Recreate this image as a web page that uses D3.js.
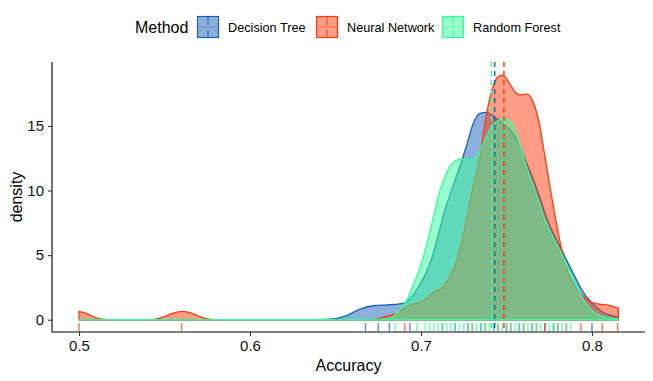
<!DOCTYPE html>
<html>
<head>
<meta charset="utf-8">
<script src="https://cdn.jsdelivr.net/npm/d3@7"></script>
<style>
  body { margin: 0; background: #fff; }
  svg { display: block; font-family: "Liberation Sans", Arial, sans-serif; }
</style>
</head>
<body>
<svg id="chart" width="653" height="381"></svg>
<script>
/* DATA */
const methods = ["Decision Tree", "Neural Network", "Random Forest"];
const palette = ["#1a62b8", "#ff3a0e", "#33ff99"];

// density curves: [accuracy, density]
const dtCurve = [[0.500,0],[0.600,0],[0.640,0.01],[0.647,0.04],[0.656,0.3],[0.664,0.8],[0.673,1.1],[0.682,1.16],[0.690,1.29],[0.6975,2.32],[0.706,4.64],[0.714,8.5],[0.724,12.36],[0.727,13.65],[0.7306,15.2],[0.7345,15.97],[0.7384,16.05],[0.7413,15.84],[0.749,15.07],[0.753,14.55],[0.757,13.65],[0.761,12.36],[0.7647,11.2],[0.7686,9.8],[0.7725,8.25],[0.7764,6.96],[0.7813,5.67],[0.786,4.38],[0.790,3.35],[0.794,2.32],[0.800,1.29],[0.8057,0.64],[0.8115,0.31],[0.8154,0.2]];
const nnCurve = [[0.500,0.64],[0.505,0.45],[0.510,0.15],[0.515,0.03],[0.520,0],[0.540,0],[0.545,0.05],[0.550,0.25],[0.555,0.52],[0.5605,0.64],[0.566,0.5],[0.571,0.22],[0.576,0.05],[0.582,0],[0.665,0],[0.673,0.03],[0.680,0.26],[0.686,0.52],[0.694,1.16],[0.701,1.41],[0.707,2.09],[0.713,2.55],[0.718,3.63],[0.721,4.64],[0.724,6.18],[0.727,7.96],[0.730,10.05],[0.7345,12.6],[0.737,14.9],[0.740,17.0],[0.742,18.0],[0.745,18.8],[0.7474,18.93],[0.749,18.8],[0.753,18.03],[0.756,17.5],[0.759,17.4],[0.762,17.47],[0.7647,17.1],[0.7677,16.0],[0.7696,14.9],[0.7715,13.4],[0.7735,11.85],[0.7754,10.3],[0.7774,8.75],[0.7803,6.7],[0.7832,4.9],[0.786,3.6],[0.790,2.57],[0.794,1.93],[0.7988,1.41],[0.8037,1.21],[0.8095,1.13],[0.8154,0.9]];
const rfCurve = [[0.500,0],[0.660,0],[0.673,0.02],[0.682,0.1],[0.6877,0.8],[0.6916,1.5],[0.6955,2.7],[0.6994,4.0],[0.7033,5.8],[0.7072,7.9],[0.7111,10.0],[0.715,11.4],[0.7189,12.2],[0.7228,12.42],[0.7287,12.42],[0.7326,12.62],[0.7364,13.65],[0.7404,14.68],[0.7443,15.33],[0.7481,15.59],[0.753,15.2],[0.7569,13.9],[0.7608,12.2],[0.7647,10.7],[0.7686,9.2],[0.7725,7.7],[0.7764,6.6],[0.7813,5.35],[0.786,4.05],[0.790,2.9],[0.794,1.8],[0.7978,1.03],[0.8018,0.52],[0.8076,0.2],[0.8154,0.05]];

// rug positions (individual accuracies)
const dtRug = [0.6675,0.675,0.6815,0.6935,0.7125,0.72,0.7275,0.735,0.7425,0.75,0.7575,0.765,0.7725,0.7775,0.800];
const nnRug = [0.500,0.560,0.6905,0.73,0.7375,0.745,0.7525,0.76,0.7675,0.7725,0.78,0.785,0.7935,0.806,0.815];
const rfRug = [0.685,0.6975,0.7025,0.705,0.7075,0.71,0.7125,0.715,0.7175,0.72,0.7225,0.725,0.7275,0.73,0.7325,0.735,0.7375,0.74,0.7425,0.745,0.7475,0.75,0.7525,0.755,0.7575,0.76,0.7625,0.765,0.7675,0.77,0.775,0.7775,0.78,0.7825,0.785,0.7875];

// group means (dashed lines)
const means = [0.7431, 0.7485, 0.7412];

const xTicks = [0.5, 0.6, 0.7, 0.8];
const yTicks = [0, 5, 10, 15];

const curves = [dtCurve, nnCurve, rfCurve];
const rugs = [dtRug, nnRug, rfRug];

/* SCALES */
const svg = d3.select("#chart");
const pLeft = 52, pRight = 645, pTop = 62, pBottom = 332;

const x = d3.scaleLinear().domain([0.4842, 0.831]).range([pLeft, pRight]);
const y = d3.scaleLinear().domain([-0.95, 19.95]).range([pBottom, pTop]);

/* DENSITIES */
const area = d3.area()
  .x(d => x(d[0]))
  .y0(y(0))
  .y1(d => y(d[1]))
  .curve(d3.curveMonotoneX);

curves.forEach((c, i) => {
  svg.append("path")
    .attr("d", area(c) + "Z")
    .attr("fill", palette[i])
    .attr("fill-opacity", 0.5)
    .attr("stroke", palette[i])
    .attr("stroke-width", 1.3)
    .attr("stroke-linejoin", "round");
});

/* RUGS */
rugs.forEach((r, i) => {
  svg.append("g").selectAll("line")
    .data(r)
    .enter()
    .append("line")
    .attr("x1", d => x(d))
    .attr("x2", d => x(d))
    .attr("y1", pBottom - 9)
    .attr("y2", pBottom - 1)
    .attr("stroke", palette[i])
    .attr("stroke-opacity", 0.65)
    .attr("stroke-width", 1.6);
});

/* MEAN LINES */
svg.append("g").selectAll("line")
  .data(means)
  .enter()
  .append("line")
  .attr("x1", d => x(d))
  .attr("x2", d => x(d))
  .attr("y1", pTop)
  .attr("y2", pBottom)
  .attr("stroke", (d, i) => palette[i])
  .attr("stroke-width", 1.5)
  .attr("stroke-dasharray", "5,4");

/* AXES */
const xAxis = svg.append("g")
  .attr("transform", `translate(0,${pBottom})`)
  .call(d3.axisBottom(x).tickValues(xTicks).tickFormat(d3.format("")).tickSize(4).tickPadding(4));

const yAxis = svg.append("g")
  .attr("transform", `translate(${pLeft},0)`)
  .call(d3.axisLeft(y).tickValues(yTicks).tickSize(4).tickPadding(4));

[xAxis, yAxis].forEach(a => {
  a.select(".domain").attr("stroke", "#000").attr("stroke-width", 1.1);
  a.selectAll(".tick line").attr("stroke", "#333").attr("stroke-width", 1.1);
  a.selectAll(".tick text").attr("fill", "#111").style("font-size", "15px").style("font-family", "'Liberation Sans', Arial, sans-serif");
});

// domain paths without outer ticks
xAxis.select(".domain").attr("d", `M${pLeft},0H${pRight}`);
yAxis.select(".domain").attr("d", `M0,${pTop}V${pBottom}`);

svg.append("text")
  .attr("x", (pLeft + pRight) / 2)
  .attr("y", 371)
  .attr("text-anchor", "middle")
  .style("font-size", "16px")
  .text("Accuracy");

svg.append("text")
  .attr("transform", `translate(22,${(pTop + pBottom) / 2}) rotate(-90)`)
  .attr("text-anchor", "middle")
  .style("font-size", "16px")
  .text("density");

/* LEGEND */
const legend = svg.append("g");
legend.append("text")
  .attr("x", 135)
  .attr("y", 33)
  .style("font-size", "16px")
  .text("Method");

const keyX = [197, 316, 442];
methods.forEach((m, i) => {
  const g = legend.append("g").attr("transform", `translate(${keyX[i]},16)`);
  g.append("rect")
    .attr("x", 0.5).attr("y", 0.5)
    .attr("width", 21).attr("height", 21)
    .attr("fill", palette[i])
    .attr("fill-opacity", 0.5)
    .attr("stroke", palette[i])
    .attr("stroke-width", 1.2);
  g.append("line")
    .attr("x1", 1).attr("x2", 21).attr("y1", 11).attr("y2", 11)
    .attr("stroke", palette[i]).attr("stroke-opacity", 0.5).attr("stroke-width", 1);
  g.append("line")
    .attr("x1", 11).attr("x2", 11).attr("y1", 1).attr("y2", 21)
    .attr("stroke", palette[i]).attr("stroke-width", 1)
    .attr("stroke-dasharray", "8,5");
  g.append("text")
    .attr("x", 31)
    .attr("y", 15.5)
    .style("font-size", "12.7px")
    .text(m);
});
</script>
</body>
</html>
